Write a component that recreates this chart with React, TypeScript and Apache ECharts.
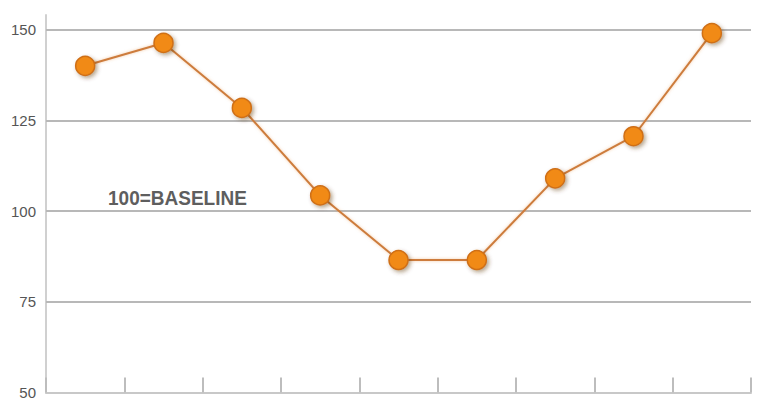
import React, { useEffect, useRef } from "react";
import * as echarts from "echarts";

const categories = ["1", "2", "3", "4", "5", "6", "7", "8", "9"];
const values = [140, 146.3, 128.4, 104.3, 86.5, 86.5, 109, 120.6, 149];
const gridValues = [75, 100, 125, 150];
const baselineLabel = "100=BASELINE";

export default function App() {
  const ref = useRef<HTMLDivElement>(null);
  useEffect(() => {
    if (!ref.current) return;
    const chart = echarts.init(ref.current, undefined, { renderer: "svg" });
    const font = "'Liberation Sans Narrow', 'Liberation Sans', Arial, sans-serif";
    chart.setOption({
      animation: false,
      backgroundColor: "#ffffff",
      grid: { left: 46, right: 19, top: 15, bottom: 6 },
      xAxis: {
        type: "category",
        data: categories,
        boundaryGap: true,
        axisLine: { show: true, lineStyle: { color: "#c8c8c8", width: 2 } },
        axisTick: { show: true, inside: true, length: 15, lineStyle: { color: "#bdbdbd", width: 2 } },
        axisLabel: { show: false },
        splitLine: { show: false },
      },
      yAxis: {
        type: "value",
        min: 50,
        max: 154,
        interval: 25,
        axisLine: { show: true, lineStyle: { color: "#d0d0d0", width: 2 } },
        axisTick: { show: false },
        splitLine: { show: false },
        axisLabel: {
          showMaxLabel: false,
          color: "#555555",
          fontSize: 15,
          fontFamily: font,
          margin: 10,
        },
      },
      series: [
        {
          type: "line",
          data: values,
          symbol: "circle",
          symbolSize: 19,
          z: 5,
          lineStyle: {
            color: "#cd7c3c",
            width: 2,
            shadowColor: "rgba(230,150,80,0.5)",
            shadowBlur: 3,
          },
          itemStyle: {
            color: "#f18a12",
            borderColor: "#cf6f18",
            borderWidth: 1.5,
            shadowColor: "rgba(90,50,10,0.45)",
            shadowBlur: 4,
            shadowOffsetX: 2,
            shadowOffsetY: 2,
          },
          markLine: {
            silent: true,
            symbol: "none",
            z: 1,
            label: { show: false },
            lineStyle: { color: "#b8b8b8", width: 2, type: "solid" },
            data: gridValues.map((v) => ({ yAxis: v })),
          },
        },
      ],
      graphic: [
        {
          type: "text",
          x: 108,
          y: 188,
          scaleX: 0.95,
          style: {
            text: baselineLabel,
            fill: "#5e5e5e",
            font: `bold 20px ${font}`,
          },
        },
      ],
    });
    return () => chart.dispose();
  }, []);
  return (
    <div
      ref={ref}
      style={{ position: "fixed", left: 0, top: 0, width: 770, height: 400 }}
    />
  );
}
